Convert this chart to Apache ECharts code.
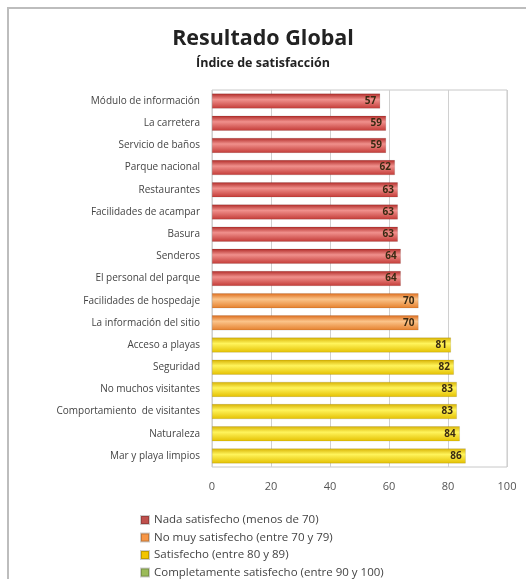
<!DOCTYPE html>
<html><head><meta charset="utf-8">
<script src="https://cdn.jsdelivr.net/npm/echarts@6/dist/echarts.min.js"></script>
<style>html,body{margin:0;padding:0;background:#fff}#c{width:526px;height:579px}</style>
</head><body><div id="c"></div>
<script>
const categories = ["Módulo de información","La carretera","Servicio de baños","Parque nacional","Restaurantes","Facilidades de acampar","Basura","Senderos","El personal del parque","Facilidades de hospedaje","La información del sitio","Acceso a playas","Seguridad","No muchos visitantes","Comportamiento  de visitantes","Naturaleza","Mar y playa limpios"];
const values = [57,59,59,62,63,63,63,64,64,70,70,81,82,83,83,84,86];
const groupNames = ["Nada satisfecho (menos de 70)","No muy satisfecho (entre 70 y 79)","Satisfecho (entre 80 y 89)","Completamente satisfecho (entre 90 y 100)"];
const groupMin = [0,70,80,90];
const groupMax = [70,80,90,101];
const xTicks = [0,20,40,60,80,100];

const palettes = [
  ['#b02a27','#f0908c','#c33a36'],
  ['#dc6a1a','#fbc48a','#e57f2b'],
  ['#d6b000','#fff45c','#e4c000'],
  ['#6d9a2e','#b9e07a','#7fae3a']
];
const legendColors = ['#c0504d','#f79646','#f2c500','#9bbb59'];

function grad(p){
  return new echarts.graphic.LinearGradient(0,0,0,1,[
    {offset:0,color:p[0]},{offset:0.4,color:p[1]},{offset:1,color:p[2]}
  ]);
}

const series = groupNames.map((name,gi)=>({
  name: name,
  type: 'bar',
  stack: 'all',
  barWidth: 15,
  data: values.map(v => (v>=groupMin[gi] && v<groupMax[gi]) ? v : '-'),
  itemStyle: { color: grad(palettes[gi]), borderColor: 'rgba(0,0,0,0.2)', borderWidth: 0.5 },
  label: { show: true, position: 'insideRight', color: '#3a2a12', fontSize: 10, fontWeight: 'bold', fontFamily: 'Open Sans', distance: 4 },
  emphasis: { disabled: true }
}));

const chart = echarts.init(document.getElementById('c'), null, {renderer:'canvas'});
chart.setOption({
  animation: false,
  backgroundColor: '#fff',
  graphic: [{
    type: 'rect', shape: { x: 8, y: 8, width: 700, height: 700 },
    style: { fill: 'none', stroke: '#bdbdbd', lineWidth: 2 }, z: 100
  }],
  title: [
    { text: 'Resultado Global', left: 'center', top: 23, textStyle: { fontSize: 21.5, fontWeight: 'bold', color: '#222', fontFamily: 'Open Sans' } },
    { text: 'Índice de satisfacción', left: 'center', top: 52, textStyle: { fontSize: 12.5, fontWeight: 'bold', color: '#222', fontFamily: 'Open Sans' } }
  ],
  legend: {
    orient: 'vertical', left: 140, top: 513, padding: 0, itemGap: 3.5, height: 90,
    itemWidth: 8, itemHeight: 8, icon: 'rect',
    textStyle: { fontSize: 11.5, lineHeight: 14, color: '#444', fontFamily: 'Open Sans' },
    data: groupNames.map((n,i)=>({ name: n, itemStyle: { color: legendColors[i] } }))
  },
  grid: { left: 212, right: 19, top: 90, bottom: 112, show: true, borderColor: '#c8c8c8', borderWidth: 1 },
  xAxis: {
    type: 'value', min: xTicks[0], max: xTicks[xTicks.length-1], interval: 20,
    axisLine: { show: false }, axisTick: { show: false },
    axisLabel: { color: '#555', fontSize: 11, margin: 14, fontFamily: 'Open Sans' },
    splitLine: { show: true, lineStyle: { color: '#d0d0d0' } }
  },
  yAxis: {
    type: 'category', data: categories, inverse: true,
    axisLine: { show: false }, axisTick: { show: false },
    axisLabel: { color: '#444', fontSize: 10, margin: 12, fontFamily: 'Open Sans' }
  },
  series: series
});
</script></body></html>
